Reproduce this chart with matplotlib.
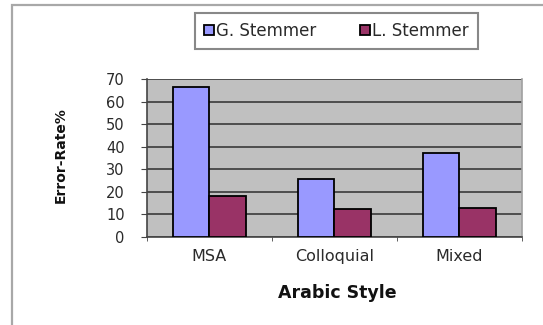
import matplotlib

matplotlib.use("Agg")

import matplotlib.pyplot as plt
import numpy as np
from matplotlib.patches import Rectangle

styles = ["MSA", "Colloquial", "Mixed"]
g_stemmer = [66.5, 25.7, 37.2]
l_stemmer = [18.0, 12.4, 12.6]
y_ticks = [0, 10, 20, 30, 40, 50, 60, 70]

plt.rcParams["font.family"] = ["DejaVu Sans"]

fig = plt.figure(figsize=(5.43, 3.25), dpi=100)
ax = fig.add_axes([0.2707, 0.2717, 0.6906, 0.4843])

# outer frame around the chart area
fig.patches.append(
    Rectangle(
        (12 / 543, -0.1),
        1.2,
        1.1 - 5 / 325,
        transform=fig.transFigure,
        fill=False,
        edgecolor="#a8a8a8",
        linewidth=1.6,
    )
)

x = np.arange(len(styles))
width = 0.29
ax.set_facecolor("#c0c0c0")
ax.bar(
    x - width / 2,
    g_stemmer,
    width,
    color="#9999ff",
    edgecolor="#000000",
    linewidth=1.3,
    label="G. Stemmer",
    zorder=3,
)
ax.bar(
    x + width / 2,
    l_stemmer,
    width,
    color="#993366",
    edgecolor="#000000",
    linewidth=1.3,
    label="L. Stemmer",
    zorder=3,
)

ax.set_xlim(-0.5, 2.5)
ax.set_ylim(0, 70)
ax.set_yticks(y_ticks)
ax.yaxis.grid(True, color="#454545", linewidth=1.3, zorder=1)
ax.set_axisbelow(True)

ax.set_xticks(x)
ax.set_xticklabels(styles)
ax.set_xticks([-0.5, 0.5, 1.5, 2.5], minor=True)
ax.tick_params(axis="x", which="major", length=0, pad=9, labelsize=11.5,
               labelcolor="#2a2a2a")
ax.tick_params(axis="x", which="minor", length=3, direction="out",
               color="#444444")
ax.tick_params(axis="y", length=4, direction="out", pad=12, labelsize=10.5,
               labelcolor="#2a2a2a", color="#444444")

for side in ("left", "bottom"):
    ax.spines[side].set_color("#444444")
    ax.spines[side].set_linewidth(1.2)
ax.spines["top"].set_visible(False)
ax.spines["right"].set_color("#a0a0a0")
ax.spines["right"].set_linewidth(1.2)

ax.set_ylabel("Error-Rate%", fontsize=10, fontweight="bold", color="#111111")
ax.yaxis.set_label_coords(-0.21, 0.52)
ax.set_xlabel("Arabic Style", fontsize=12.5, fontweight="bold",
              color="#111111")
ax.xaxis.set_label_coords(0.507, -0.30)

fig.legend(
    loc="center",
    bbox_to_anchor=(336.5 / 543, 1 - 31 / 325),
    ncol=2,
    fontsize=12,
    labelcolor="#2a2a2a",
    fancybox=False,
    edgecolor="#888888",
    framealpha=1,
    handlelength=0.6,
    handleheight=0.5,
    handletextpad=0.15,
    columnspacing=2.6,
    borderpad=0.55,
    borderaxespad=0,
)
fig.legends[0].get_frame().set_linewidth(1.5)

fig.savefig("out.png", dpi=100)
